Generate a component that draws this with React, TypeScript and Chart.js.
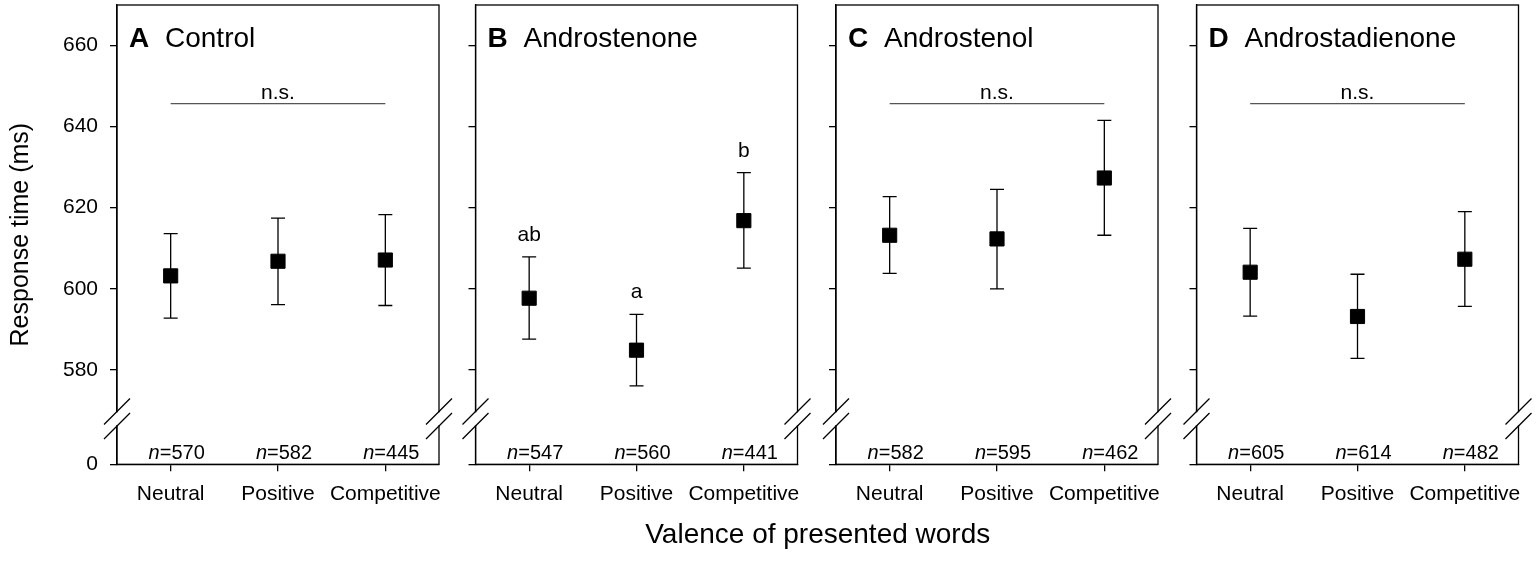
import React, { useEffect, useRef } from 'react';
import { Chart, registerables } from 'chart.js';

Chart.register(...registerables);

// ---------- data ----------
const categories = ['Neutral', 'Positive', 'Competitive'];
const panelLetters = ['A', 'B', 'C', 'D'];
const panelNames = ['Control', 'Androstenone', 'Androstenol', 'Androstadienone'];

const controlMean = [603.2, 606.8, 607.1];
const controlUpper = [613.6, 617.4, 618.3];
const controlLower = [592.8, 596.1, 595.9];
const controlN = [570, 582, 445];

const androstenoneMean = [597.7, 584.9, 616.8];
const androstenoneUpper = [607.9, 593.7, 628.6];
const androstenoneLower = [587.6, 576.1, 605.1];
const androstenoneN = [547, 560, 441];
const androstenoneLetters = ['ab', 'a', 'b'];

const androstenolMean = [613.2, 612.3, 627.3];
const androstenolUpper = [622.7, 624.5, 641.5];
const androstenolLower = [603.8, 600.0, 613.2];
const androstenolN = [582, 595, 462];

const androstadienoneMean = [604.1, 593.2, 607.3];
const androstadienoneUpper = [614.9, 603.6, 619.0];
const androstadienoneLower = [593.3, 582.9, 595.7];
const androstadienoneN = [605, 614, 482];

const nsLineValue = 645.6; // height of the "n.s." bracket

// broken axis: the "0" tick sits at the bottom of the box
const yTickValues = [556.8, 580, 600, 620, 640, 660];
const yTickLabels = ['0', '580', '600', '620', '640', '660'];
const yMin = 556.8;
const yMax = 669.9;
const breakValue = 568;

const yAxisTitle = 'Response time (ms)';
const xAxisTitle = 'Valence of presented words';

const panels = [
  { mean: controlMean, upper: controlUpper, lower: controlLower, n: controlN, ns: true, letters: null as string[] | null },
  { mean: androstenoneMean, upper: androstenoneUpper, lower: androstenoneLower, n: androstenoneN, ns: false, letters: androstenoneLetters },
  { mean: androstenolMean, upper: androstenolUpper, lower: androstenolLower, n: androstenolN, ns: true, letters: null },
  { mean: androstadienoneMean, upper: androstadienoneUpper, lower: androstadienoneLower, n: androstadienoneN, ns: true, letters: null },
];

// ---------- layout ----------
const W = 1536;
const H = 561;
const FONT = "'Liberation Sans', Arial, sans-serif";
const BOX_LEFT = [117, 475.5, 836, 1196.5];
const BOX_W = 322;
const BOX_TOP = 5;
const BOX_BOTTOM = 464.3;
const Y_AXIS_W = [117, 60, 60, 60];
const X_AXIS_H = 50;

function zeroPad(s: any) {
  s.paddingTop = 0;
  s.paddingBottom = 0;
  s.paddingLeft = 0;
  s.paddingRight = 0;
}

function makePlugin(i: number) {
  const p = panels[i];
  return {
    id: 'panelDecor' + i,
    beforeDatasetsDraw(chart: any) {
      const { ctx, chartArea, scales } = chart;
      const { left, right, top, bottom } = chartArea;
      const x = scales.x;
      const y = scales.y;
      ctx.save();
      ctx.strokeStyle = '#000';
      ctx.lineWidth = 1.3;
      ctx.strokeRect(left, top, right - left, bottom - top);

      // axis breaks
      const by = y.getPixelForValue(breakValue);
      for (const ex of [left, right]) {
        ctx.fillStyle = '#fff';
        ctx.fillRect(ex - 2.5, by - 6.5, 5, 13);
        ctx.beginPath();
        for (const dy of [-7.25, 7.25]) {
          ctx.moveTo(ex - 13, by + dy + 13);
          ctx.lineTo(ex + 13, by + dy - 13);
        }
        ctx.strokeStyle = '#000';
        ctx.lineWidth = 1.3;
        ctx.stroke();
      }

      // error bars
      ctx.beginPath();
      for (let k = 0; k < p.mean.length; k++) {
        const px = x.getPixelForValue(k);
        const yu = y.getPixelForValue(p.upper[k]);
        const yl = y.getPixelForValue(p.lower[k]);
        ctx.moveTo(px, yu);
        ctx.lineTo(px, yl);
        ctx.moveTo(px - 7, yu);
        ctx.lineTo(px + 7, yu);
        ctx.moveTo(px - 7, yl);
        ctx.lineTo(px + 7, yl);
      }
      ctx.lineWidth = 1.3;
      ctx.stroke();

      // panel title
      ctx.fillStyle = '#000';
      ctx.textBaseline = 'alphabetic';
      ctx.textAlign = 'left';
      ctx.font = `bold 28px ${FONT}`;
      ctx.fillText(panelLetters[i], left + 12, top + 42);
      ctx.font = `28px ${FONT}`;
      ctx.fillText(panelNames[i], left + 48, top + 42);

      // n.s. bracket
      if (p.ns) {
        const ly = y.getPixelForValue(nsLineValue);
        ctx.beginPath();
        ctx.moveTo(x.getPixelForValue(0), ly);
        ctx.lineTo(x.getPixelForValue(2), ly);
        ctx.strokeStyle = '#555';
        ctx.lineWidth = 1.2;
        ctx.stroke();
        ctx.font = `21px ${FONT}`;
        ctx.textAlign = 'center';
        ctx.fillText('n.s.', x.getPixelForValue(1), ly - 5);
      }

      // significance letters
      if (p.letters) {
        ctx.font = `21px ${FONT}`;
        ctx.textAlign = 'center';
        p.letters.forEach((t, k) => {
          ctx.fillText(t, x.getPixelForValue(k), y.getPixelForValue(p.upper[k]) - 16);
        });
      }

      // n labels
      ctx.textAlign = 'left';
      p.n.forEach((nv, k) => {
        const rest = '=' + nv;
        ctx.font = `italic 20px ${FONT}`;
        const w1 = ctx.measureText('n').width;
        ctx.font = `20px ${FONT}`;
        const w2 = ctx.measureText(rest).width;
        const sx = x.getPixelForValue(k) + 6 - (w1 + w2) / 2;
        ctx.font = `italic 20px ${FONT}`;
        ctx.fillText('n', sx, bottom - 5.5);
        ctx.font = `20px ${FONT}`;
        ctx.fillText(rest, sx + w1, bottom - 5.5);
      });

      // shared x-axis title (drawn once, by the last panel)
      if (i === panels.length - 1) {
        ctx.font = `28px ${FONT}`;
        ctx.textAlign = 'center';
        const cx = (BOX_LEFT[0] + BOX_LEFT[3] + BOX_W) / 2;
        ctx.fillText(xAxisTitle, cx, 543);
      }
      ctx.restore();
    },
  };
}

function buildConfig(i: number): any {
  const p = panels[i];
  return {
    type: 'scatter',
    data: {
      datasets: [
        {
          data: p.mean.map((v, k) => ({ x: k, y: v })),
          pointStyle: 'rect',
          pointRadius: 10,
          pointHoverRadius: 10,
          backgroundColor: '#000',
          borderColor: '#000',
          borderWidth: 1,
          showLine: false,
        },
      ],
    },
    options: {
      animation: false,
      responsive: true,
      maintainAspectRatio: false,
      events: [],
      layout: {
        autoPadding: false,
        padding: {
          left: BOX_LEFT[i] - Y_AXIS_W[i],
          right: W - (BOX_LEFT[i] + BOX_W),
          top: BOX_TOP,
          bottom: H - BOX_BOTTOM - X_AXIS_H,
        },
      },
      plugins: { legend: { display: false }, tooltip: { enabled: false }, title: { display: false } },
      scales: {
        x: {
          type: 'linear',
          min: -0.5,
          max: 2.5,
          afterBuildTicks: (s: any) => {
            s.ticks = categories.map((_, k) => ({ value: k }));
          },
          afterFit: (s: any) => {
            s.height = X_AXIS_H;
            zeroPad(s);
          },
          ticks: {
            callback: (_v: any, idx: number) => categories[idx],
            font: { family: FONT, size: 21 },
            color: '#000',
            padding: 10,
            maxRotation: 0,
            autoSkip: false,
          },
          grid: { drawOnChartArea: false, drawTicks: true, tickLength: 7, color: '#000', lineWidth: 1.3 },
          border: { display: true, color: '#000', width: 1.3 },
        },
        y: {
          type: 'linear',
          min: yMin,
          max: yMax,
          afterBuildTicks: (s: any) => {
            s.ticks = yTickValues.map((v) => ({ value: v }));
          },
          afterFit: (s: any) => {
            s.width = Y_AXIS_W[i];
            zeroPad(s);
          },
          ticks: {
            display: i === 0,
            callback: (_v: any, idx: number) => yTickLabels[idx],
            font: { family: FONT, size: 21 },
            color: '#000',
            padding: 12,
          },
          title: {
            display: i === 0,
            text: yAxisTitle,
            color: '#000',
            font: { family: FONT, size: 25 },
            padding: { top: 6, bottom: 0 },
          },
          grid: { drawOnChartArea: false, drawTicks: true, tickLength: 7, color: '#000', lineWidth: 1.3 },
          border: { display: true, color: '#000', width: 1.3 },
        },
      },
    },
    plugins: [makePlugin(i)],
  };
}

function Panel({ index }: { index: number }) {
  const ref = useRef<HTMLCanvasElement | null>(null);
  useEffect(() => {
    if (!ref.current) return;
    const chart = new Chart(ref.current, buildConfig(index));
    return () => chart.destroy();
  }, [index]);
  return (
    <div style={{ position: 'absolute', left: 0, top: 0, width: W, height: H }}>
      <canvas ref={ref} />
    </div>
  );
}

export default function App() {
  return (
    <div style={{ position: 'absolute', left: 0, top: 0, width: W, height: H, background: '#fff', overflow: 'hidden' }}>
      {panels.map((_, i) => (
        <Panel key={i} index={i} />
      ))}
    </div>
  );
}
